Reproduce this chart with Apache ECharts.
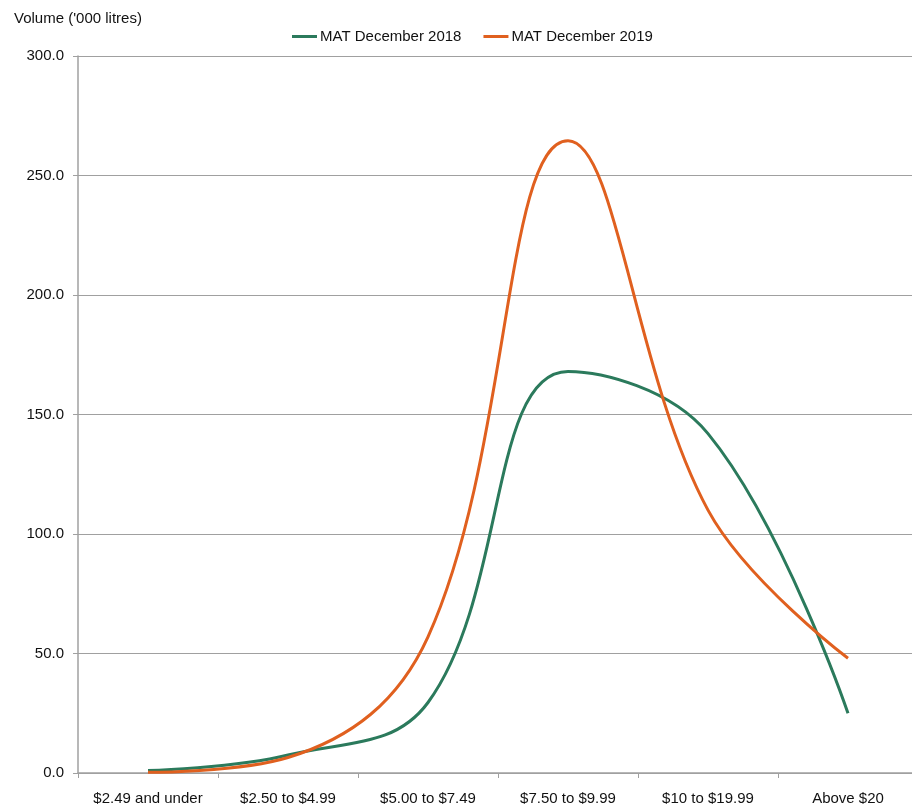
<!DOCTYPE html>
<html>
<head>
<meta charset="utf-8">
<script src="https://cdn.jsdelivr.net/npm/echarts@6/dist/echarts.min.js"></script>
<style>html,body{margin:0;padding:0;background:#fff;overflow:hidden}#c{width:920px;height:810px}</style>
</head>
<body>
<div id="c"></div>
<script>
const categories = ['$2.49 and under', '$2.50 to $4.99', '$5.00 to $7.49', '$7.50 to $9.99', '$10 to $19.99', 'Above $20'];
const mat2018 = [1.0, 7.5, 29.5, 168.0, 142.0, 25.0];
const mat2019 = [0.3, 6.5, 57.0, 264.5, 110.0, 48.0];
const yTicks = [0, 50, 100, 150, 200, 250, 300];
const yAxisTitle = "Volume ('000 litres)";

const FONT = '"Liberation Sans", Arial, sans-serif';
const GREEN = '#2b7a5c';
const ORANGE = '#e0601f';

const chart = echarts.init(document.getElementById('c'), null, {renderer: 'canvas'});
chart.setOption({
  animation: false,
  backgroundColor: '#fff',
  textStyle: {fontFamily: FONT},
  title: {
    text: yAxisTitle,
    left: 9, top: 6,
    textStyle: {fontFamily: FONT, fontSize: 15, fontWeight: 'normal', color: '#111'}
  },
  legend: {
    left: 287, top: 24,
    icon: 'rect', itemWidth: 25, itemHeight: 3, itemGap: 22,
    textStyle: {fontFamily: FONT, fontSize: 15, color: '#111', padding: [0, 0, 0, -2]},
    data: ['MAT December 2018', 'MAT December 2019']
  },
  grid: {left: 78, top: 56, width: 840, bottom: 37, containLabel: false},
  xAxis: {
    type: 'category',
    data: categories,
    boundaryGap: true,
    axisLine: {lineStyle: {color: '#a0a0a0', width: 1.5}},
    axisTick: {show: true, length: 5, lineStyle: {color: '#a0a0a0'}},
    axisLabel: {fontFamily: FONT, fontSize: 15, color: '#111', margin: 18, interval: 0}
  },
  yAxis: {
    type: 'value',
    min: yTicks[0], max: yTicks[yTicks.length - 1], interval: 50,
    axisLine: {show: true, lineStyle: {color: '#a0a0a0', width: 1.5}},
    axisTick: {show: true, length: 5, lineStyle: {color: '#a0a0a0'}},
    axisLabel: {fontFamily: FONT, fontSize: 15, color: '#111', margin: 14,
      formatter: v => v.toFixed(1)},
    splitLine: {show: true, lineStyle: {color: '#a0a0a0', width: 1}}
  },
  series: [
    {name: 'MAT December 2018', type: 'line', data: mat2018, smooth: 0.4,
     showSymbol: false, symbol: 'none', lineStyle: {color: GREEN, width: 3}, itemStyle: {color: GREEN}, z: 3},
    {name: 'MAT December 2019', type: 'line', data: mat2019, smooth: 0.4,
     showSymbol: false, symbol: 'none', lineStyle: {color: ORANGE, width: 3}, itemStyle: {color: ORANGE}, z: 4}
  ]
});
</script>
</body>
</html>
